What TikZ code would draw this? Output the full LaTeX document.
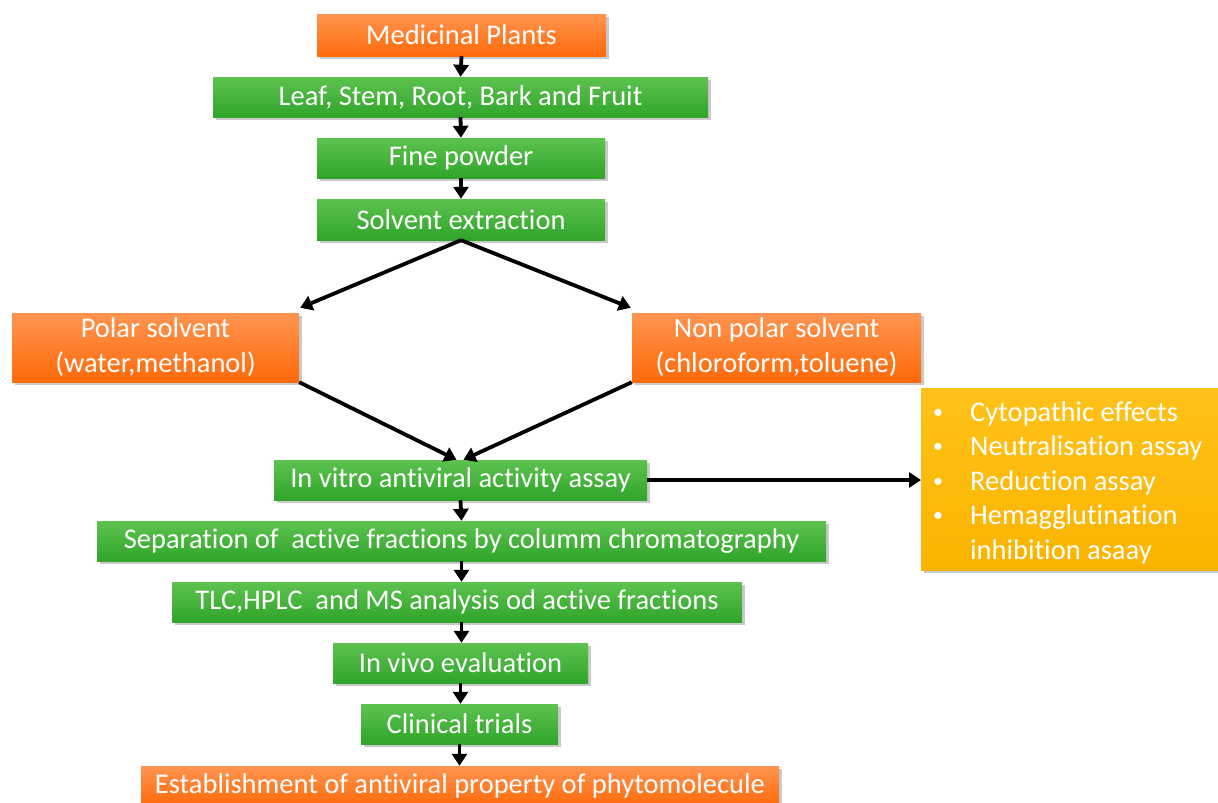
\documentclass[tikz,border=0pt]{standalone}
\usepackage{fontspec}
\setmainfont[Ligatures=NoCommon]{Carlito}
\usetikzlibrary{arrows.meta,shadows,calc}
\definecolor{orgtop}{HTML}{FF9450}
\definecolor{orgbot}{HTML}{FF6A0A}
\definecolor{grntop}{HTML}{5DC24F}
\definecolor{grnbot}{HTML}{30A52A}
\definecolor{yeltop}{HTML}{FFC21A}
\definecolor{yelbot}{HTML}{FAB400}
\tikzset{
  boxbase/.style={rectangle, inner sep=0pt, text=white, font=\fontsize{28.5}{35}\selectfont,
    align=center, drop shadow={shadow xshift=2.5pt, shadow yshift=-2.5pt, opacity=0.35, fill=black!60}},
  orangebox/.style={boxbase, top color=orgtop, bottom color=orgbot},
  greenbox/.style={boxbase, top color=grntop, bottom color=grnbot},
  yellowbox/.style={boxbase, top color=yeltop, bottom color=yelbot, align=left},
  ytext/.style={text=white, font=\fontsize{28.5}{34}\selectfont, anchor=base west, inner sep=0pt},
  ybullet/.style={text=white, font=\fontsize{20}{24}\selectfont, anchor=base, inner sep=0pt},
  arr/.style={line width=3.8pt, -{Triangle[length=12pt,width=15pt]}, black}
}
\begin{document}
\begin{tikzpicture}[x=1pt,y=-1pt]
\useasboundingbox (0,0) rectangle (1218,803);
\node[orangebox, minimum width=289pt, minimum height=42pt] (mp) at (461.5,35) {Medicinal Plants};
\node[greenbox, minimum width=495pt, minimum height=40pt] (leaf) at (460.5,97) {Leaf, Stem, Root, Bark and Fruit};
\node[greenbox, minimum width=288pt, minimum height=40pt] (fine) at (461,158) {Fine powder};
\node[greenbox, minimum width=288pt, minimum height=41pt] (solv) at (461,219.5) {Solvent extraction};
\node[orangebox, minimum width=287pt, minimum height=69pt] (polar) at (155.5,347.5) {Polar solvent\\(water,methanol)};
\node[orangebox, minimum width=289pt, minimum height=69pt] (nonpolar) at (776.5,347.5) {Non polar solvent\\(chloroform,toluene)};
\node[greenbox, minimum width=373pt, minimum height=40pt] (vitro) at (460.5,480) {In vitro antiviral activity assay};
\node[greenbox, minimum width=729pt, minimum height=40pt] (sep) at (461.5,541) {Separation of\ \ active fractions by columm chromatography};
\node[greenbox, minimum width=570pt, minimum height=40pt] (tlc) at (457,602) {TLC,HPLC\ \ and MS analysis od active fractions};
\node[greenbox, minimum width=255pt, minimum height=40pt] (vivo) at (460.5,663) {In vivo evaluation};
\node[greenbox, minimum width=197pt, minimum height=40pt] (clin) at (459.5,724) {Clinical trials};
\node[orangebox, minimum width=638pt, minimum height=40pt] (est) at (460,786) {Establishment of antiviral property of phytomolecule};
\node[yellowbox, minimum width=297pt, minimum height=182pt, anchor=north west] (yel) at (921,388) {};
\foreach \t [count=\i] in {Cytopathic effects, Neutralisation assay, Reduction assay, Hemagglutination}{
  \node[ytext] (yb\i) at (970,{411+34.5*(\i-1)+10}) {\t};
  \node[ybullet] (bu\i) at (938,{411+34.5*(\i-1)+7}) {•};
}
\node[ytext] (yb5) at (970,{411+34.5*4+10}) {inhibition asaay};

\draw[arr] (mp.south) -- (leaf.north);
\draw[arr] (leaf.south) -- (fine.north);
\draw[arr] (fine.south) -- (solv.north);
\draw[arr] (solv.south) -- ($(polar.north east)+(1,-5)$);
\draw[arr] (solv.south) -- ($(nonpolar.north west)+(-1,-5)$);
\draw[arr] (polar.south east) -- ($(vitro.north)+(-4,0)$);
\draw[arr] (nonpolar.south west) -- ($(vitro.north)+(3,0)$);
\draw[arr] (vitro.east) -- (yel.west |- vitro.east);
\draw[arr] (vitro.south) -- (sep.north);
\draw[arr] (sep.south) -- (tlc.north -| sep.south);
\draw[arr] (tlc.south -| sep.south) -- (vivo.north -| sep.south);
\draw[arr] (vivo.south) -- (clin.north -| vivo.south);
\draw[arr] (clin.south) -- (est.north -| clin.south);
\end{tikzpicture}
\end{document}
